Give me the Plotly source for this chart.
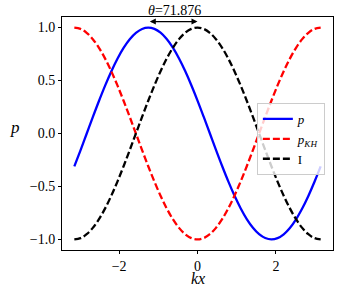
import plotly.graph_objects as go

kx = [-3.1416, -2.9845, -2.8274, -2.6704, -2.5133, -2.3562, -2.1991, -2.0420, -1.8850, -1.7279,
      -1.5708, -1.4137, -1.2566, -1.0996, -0.9425, -0.7854, -0.6283, -0.4712, -0.3142, -0.1571,
      0.0,
      0.1571, 0.3142, 0.4712, 0.6283, 0.7854, 0.9425, 1.0996, 1.2566, 1.4137, 1.5708,
      1.7279, 1.8850, 2.0420, 2.1991, 2.3562, 2.5133, 2.6704, 2.8274, 2.9845, 3.1416]

p_vals = [-0.3111, -0.1586, -0.0022, 0.1543, 0.3070, 0.4521, 0.5861, 0.7056, 0.8077, 0.8900,
          0.9504, 0.9873, 1.0000, 0.9880, 0.9517, 0.8920, 0.8103, 0.7086, 0.5895, 0.4559,
          0.3111,
          0.1586, 0.0022, -0.1543, -0.3070, -0.4521, -0.5861, -0.7056, -0.8077, -0.8900, -0.9504,
          -0.9873, -1.0000, -0.9880, -0.9517, -0.8920, -0.8103, -0.7086, -0.5895, -0.4559, -0.3111]

I_vals = [-1.0, -0.9877, -0.9511, -0.8910, -0.8090, -0.7071, -0.5878, -0.4540, -0.3090, -0.1564,
          0.0, 0.1564, 0.3090, 0.4540, 0.5878, 0.7071, 0.8090, 0.8910, 0.9511, 0.9877,
          1.0,
          0.9877, 0.9511, 0.8910, 0.8090, 0.7071, 0.5878, 0.4540, 0.3090, 0.1564, 0.0,
          -0.1564, -0.3090, -0.4540, -0.5878, -0.7071, -0.8090, -0.8910, -0.9511, -0.9877, -1.0]

pKH_vals = [1.0, 0.9877, 0.9511, 0.8910, 0.8090, 0.7071, 0.5878, 0.4540, 0.3090, 0.1564,
            0.0, -0.1564, -0.3090, -0.4540, -0.5878, -0.7071, -0.8090, -0.8910, -0.9511, -0.9877,
            -1.0,
            -0.9877, -0.9511, -0.8910, -0.8090, -0.7071, -0.5878, -0.4540, -0.3090, -0.1564, 0.0,
            0.1564, 0.3090, 0.4540, 0.5878, 0.7071, 0.8090, 0.8910, 0.9511, 0.9877, 1.0]

theta_deg = 71.876
theta_rad = 1.2545
x_ticks = [-2, 0, 2]
y_ticks = [-1.0, -0.5, 0.0, 0.5, 1.0]
y_tick_labels = ["\u22121.0", "\u22120.5", "0.0", "0.5", "1.0"]
x_tick_labels = ["\u22122", "0", "2"]

FONT = "Liberation Serif, Times New Roman, serif"

fig = go.Figure()
fig.add_trace(go.Scatter(x=kx, y=p_vals, mode="lines", line=dict(color="#0000ff", width=2.3, shape="spline"),
                         name="<i>p</i>"))
fig.add_trace(go.Scatter(x=kx, y=pKH_vals, mode="lines",
                         line=dict(color="#ff0000", width=2.3, dash="7px,3px", shape="spline"),
                         name="<i>p</i><sub><i>KH</i></sub>"))
fig.add_trace(go.Scatter(x=kx, y=I_vals, mode="lines",
                         line=dict(color="#000000", width=2.3, dash="7px,3px", shape="spline"),
                         name="I"))

fig.add_annotation(x=0, y=1.057, ax=-theta_rad, ay=1.057, xref="x", yref="y", axref="x", ayref="y",
                   text="", showarrow=True, arrowhead=2, startarrowhead=2, arrowside="end+start",
                   arrowwidth=1.2, arrowsize=1, startarrowsize=1, arrowcolor="black")
fig.add_annotation(x=-theta_rad / 2 + 0.05, y=1.03, xref="x", yref="paper", yanchor="middle",
                   showarrow=False,
                   text="<i>\u03b8</i>=71.876", font=dict(family=FONT, size=14, color="black"))
fig.add_annotation(x=-0.2, y=0.524, xref="paper", yref="paper", showarrow=False,
                   text="<i>p</i>", font=dict(family=FONT, size=17, color="black"))
fig.add_annotation(x=0.5, y=-0.162, xref="paper", yref="paper", yanchor="bottom", showarrow=False,
                   borderpad=0,
                   text="<i>kx</i>", font=dict(family=FONT, size=16, color="black"))

axis_common = dict(showgrid=False, zeroline=False, showline=True, linecolor="black", linewidth=1,
                   mirror=True, ticks="outside", ticklen=3, tickwidth=1, tickcolor="black",
                   tickfont=dict(family=FONT, size=14, color="black"))

fig.update_layout(
    width=346, height=288,
    margin=dict(l=62, r=13, t=17, b=38),
    plot_bgcolor="white", paper_bgcolor="white",
    font=dict(family=FONT),
    xaxis=dict(range=[-3.456, 3.456], tickvals=x_ticks, ticktext=x_tick_labels, **axis_common),
    yaxis=dict(range=[-1.1, 1.1], tickvals=y_ticks, ticktext=y_tick_labels, **axis_common),
    legend=dict(x=0.97, y=0.631, xanchor="right", yanchor="top",
                bgcolor="rgba(255,255,255,0.8)", bordercolor="#cccccc", borderwidth=1,
                font=dict(family=FONT, size=13, color="black"),
                tracegroupgap=0, itemwidth=30),
    showlegend=True,
)

fig.write_html("out.html", config={"displayModeBar": False},
               post_script="document.body.style.margin='0';")
